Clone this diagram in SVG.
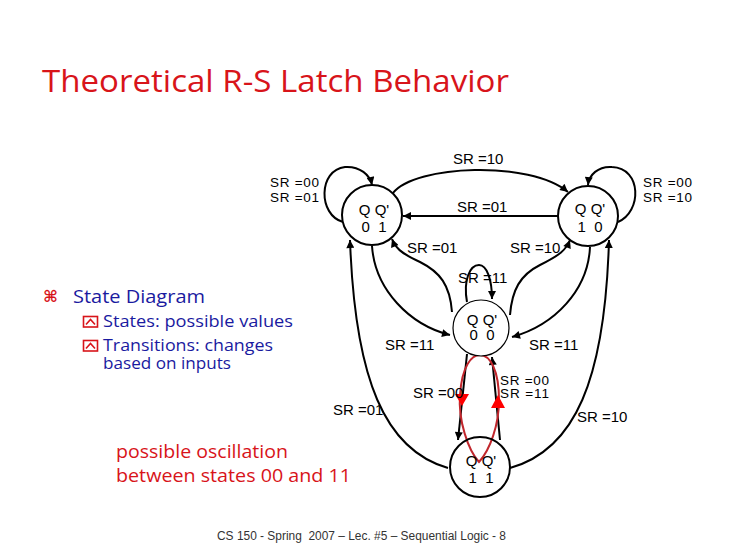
<svg xmlns="http://www.w3.org/2000/svg" width="730" height="547" viewBox="0 0 730 547">
<style>
.node{fill:#fff;stroke:#000;stroke-width:2}
.thin{stroke-width:1.2}
.edge{fill:none;stroke:#000;stroke-width:2}
.lbl{font-family:"Liberation Sans",Arial,sans-serif;font-size:15px;fill:#000}
.lbs{font-family:"Liberation Sans",Arial,sans-serif;font-size:13.5px;fill:#000}
.st{font-family:"Liberation Sans",Arial,sans-serif;font-size:15px;fill:#000;text-anchor:middle}
.blue{font-family:"Open Sans","Liberation Sans",sans-serif;fill:#1a1aa0}
.red{font-family:"Open Sans","Liberation Sans",sans-serif;fill:#d8141a}
</style>
<defs>
<marker id="ah" viewBox="0 0 10 10" refX="10" refY="5" markerWidth="9" markerHeight="8" markerUnits="userSpaceOnUse" orient="auto"><path d="M0,0 L10,5 L0,10 z" fill="#000"/></marker>
</defs>
<rect width="730" height="547" fill="#fff"/>
<text x="42" y="92" class="red" font-size="31" textLength="467" lengthAdjust="spacingAndGlyphs">Theoretical R-S Latch Behavior</text>

<g id="text-left">
<text x="43" y="302" font-family="DejaVu Sans,sans-serif" font-size="16" font-weight="bold" fill="#d8141a">⌘</text>
<text x="73" y="303" class="blue" font-size="19" textLength="132" lengthAdjust="spacingAndGlyphs">State Diagram</text>
<g fill="none" stroke="#d8141a" stroke-width="1.6">
<rect x="83.5" y="316.5" width="14" height="10.5"/>
<polyline points="86,324.5 90.5,319.5 95,324.5"/>
<rect x="83.5" y="340.5" width="14" height="10.5"/>
<polyline points="86,348.5 90.5,343.5 95,348.5"/>
</g>
<text x="103" y="327" class="blue" font-size="15.5" textLength="190" lengthAdjust="spacingAndGlyphs">States: possible values</text>
<text x="103" y="351" class="blue" font-size="15.5" textLength="170" lengthAdjust="spacingAndGlyphs">Transitions: changes</text>
<text x="103" y="369" class="blue" font-size="15.5" textLength="128" lengthAdjust="spacingAndGlyphs">based on inputs</text>
<text x="116" y="458" class="red" font-size="18" textLength="172" lengthAdjust="spacingAndGlyphs">possible oscillation</text>
<text x="116" y="482" class="red" font-size="18" textLength="235" lengthAdjust="spacingAndGlyphs">between states 00 and 11</text>
</g>

<g id="connectors">
<path class="edge" d="M393,193 C415,165 530,160 568,192" marker-end="url(#ah)"/>
<path class="edge" d="M558,216 L403,216" marker-end="url(#ah)"/>
<path class="edge" d="M343,222 C318,215 318,170 345,167 C360,166 370,175 372,185" marker-end="url(#ah)"/>
<path class="edge" d="M618,222 C642,212 642,168 612,167 C598,166 589,175 588,185" marker-end="url(#ah)"/>
<path class="edge" d="M452,312 C450,285 440,272 420,262 C400,253 395,247 392,239" marker-end="url(#ah)"/>
<path class="edge" d="M510,315 C512,290 520,275 540,265 C560,255 566,250 570,240" marker-end="url(#ah)"/>
<path class="edge" d="M372,246 C375,290 410,325 450,335" marker-end="url(#ah)"/>
<path class="edge" d="M590,247 C588,290 555,325 512,337" marker-end="url(#ah)"/>
<path class="edge" d="M467,302 C463,280 470,265 479,265 C487,265 492,280 492,299" marker-end="url(#ah)"/>
<path class="edge" d="M448,468 C385,450 355,380 350,240" marker-end="url(#ah)"/>
<path class="edge" d="M510,468 C575,450 605,380 609,240" marker-end="url(#ah)"/>
<path class="edge" d="M467,354 L458,440" marker-end="url(#ah)"/>
<path class="edge" d="M500,440 L492,357" marker-end="url(#ah)"/>
<path d="M479,462 C468,450 458,420 460,395 C462,365 472,355 480,355 C490,355 499,370 499,400 C499,425 490,450 479,462 Z" fill="none" stroke="#c1272d" stroke-width="2"/>
<polygon points="455,394 469,394 462,406" fill="#f00"/>
<polygon points="491,408 505,408 498,395" fill="#f00"/>
</g>

<g id="edge-labels">
<text class="lbl" x="453" y="164">SR =10</text>
<text class="lbs" x="270" y="187" textLength="49">SR =00</text>
<text class="lbs" x="270" y="202" textLength="49">SR =01</text>
<text class="lbl" x="457" y="212">SR =01</text>
<text class="lbs" x="643" y="187" textLength="49">SR =00</text>
<text class="lbs" x="643" y="202" textLength="49">SR =10</text>
<text class="lbl" x="407" y="253">SR =01</text>
<text class="lbl" x="510" y="253">SR =10</text>
<text class="lbl" x="458" y="283">SR =11</text>
<text class="lbl" x="385" y="350">SR =11</text>
<text class="lbl" x="529" y="350">SR =11</text>
<text class="lbl" x="413" y="398">SR =00</text>
<text class="lbs" x="500" y="385" textLength="49">SR =00</text>
<text class="lbs" x="500" y="398" textLength="49">SR =11</text>
<text class="lbl" x="333" y="415">SR =01</text>
<text class="lbl" x="577" y="422">SR =10</text>
</g>

<g id="s01">
<circle class="node" cx="372" cy="215" r="30"/>
<text class="st" x="374" y="215">Q Q'</text>
<text class="st" x="374" y="232">0&#160;&#160;1</text>
</g>
<g id="s10">
<circle class="node" cx="588" cy="216" r="30"/>
<text class="st" x="590" y="214">Q Q'</text>
<text class="st" x="590" y="232">1&#160;&#160;0</text>
</g>
<g id="s00">
<circle class="node thin" cx="481" cy="328" r="28"/>
<text class="st" x="482" y="325">Q Q'</text>
<text class="st" x="482" y="340">0&#160;&#160;0</text>
</g>
<g id="s11">
<circle class="node" cx="480" cy="467" r="30" style="fill:none"/>
<text class="st" x="481" y="466">Q Q'</text>
<text class="st" x="481" y="483">1&#160;&#160;1</text>
</g>

<text x="217" y="540" font-family="Liberation Sans,Arial,sans-serif" font-size="12" fill="#333" textLength="289" lengthAdjust="spacingAndGlyphs">CS 150 - Spring&#160; 2007 – Lec. #5 – Sequential Logic - 8</text>
</svg>
